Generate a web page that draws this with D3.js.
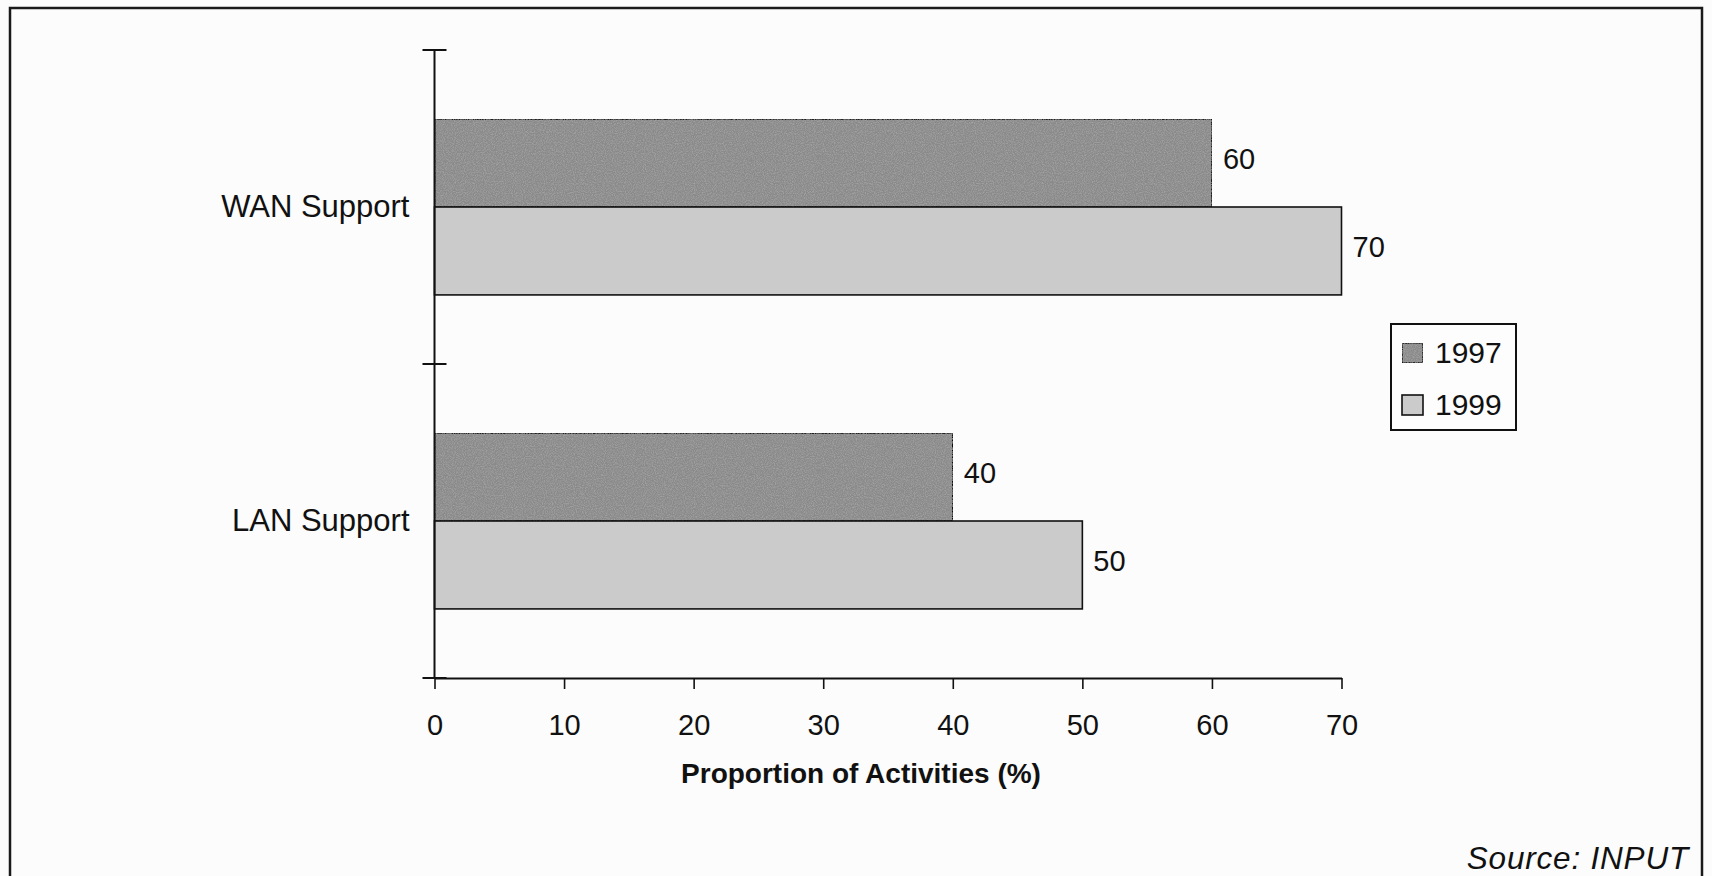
<!DOCTYPE html>
<html>
<head>
<meta charset="utf-8">
<script src="https://cdn.jsdelivr.net/npm/d3@7"></script>
<style>
  html, body { margin: 0; padding: 0; background: #fcfcfc; }
  svg { display: block; }
  text { font-family: "Liberation Sans", Arial, sans-serif; fill: #111; }
</style>
</head>
<body>
<svg id="chart" width="1712" height="876"></svg>
<script>
// ---- data ----
const categories = ["WAN Support", "LAN Support"];
const seriesNames = ["1997", "1999"];
const values1997 = [60, 40];
const values1999 = [70, 50];
const xTicks = [0, 10, 20, 30, 40, 50, 60, 70];
const xTitle = "Proportion of Activities (%)";
const sourceText = "Source: INPUT";

const seriesValues = [values1997, values1999];
const colors = ["#8a8a8a", "#cbcbcb"];

const svg = d3.select("#chart");

// frame
svg.append("rect")
  .attr("x", 10).attr("y", 8)
  .attr("width", 1692).attr("height", 900)
  .attr("fill", "#fcfcfc")
  .attr("stroke", "#1a1a1a").attr("stroke-width", 2.5);

// noise texture for bars
const defs = svg.append("defs");
const f = defs.append("filter").attr("id", "grain").attr("x", 0).attr("y", 0).attr("width", 1).attr("height", 1);
f.append("feTurbulence").attr("type", "fractalNoise").attr("baseFrequency", 0.9).attr("numOctaves", 2).attr("seed", 3).attr("result", "n");
f.append("feColorMatrix").attr("in", "n").attr("type", "matrix")
  .attr("values", "0 0 0 0 0.45  0 0 0 0 0.45  0 0 0 0 0.45  0 0 0 -1.2 0.75").attr("result", "nm");
f.append("feComposite").attr("in", "nm").attr("in2", "SourceGraphic").attr("operator", "in").attr("result", "nc");
f.append("feMerge").call(m => { m.append("feMergeNode").attr("in", "SourceGraphic"); m.append("feMergeNode").attr("in", "nc"); });

const x = d3.scaleLinear().domain([0, 70]).range([434.5, 1341.5]);
const y = d3.scaleBand().domain(categories).range([50, 678]).paddingInner(0.44).paddingOuter(0.22);
const yInner = d3.scaleBand().domain(seriesNames).range([0, y.bandwidth()]);

// bars
const groups = svg.selectAll("g.cat").data(categories).join("g")
  .attr("class", "cat")
  .attr("transform", d => `translate(0,${y(d)})`);

seriesNames.forEach((s, si) => {
  groups.append("rect")
    .attr("x", x(0))
    .attr("y", yInner(s))
    .attr("width", (d, i) => x(seriesValues[si][i]) - x(0))
    .attr("height", yInner.bandwidth())
    .attr("fill", colors[si])
    .attr("stroke", "#111").attr("stroke-width", 1.6)
    .attr("filter", si === 0 ? "url(#grain)" : null);
  groups.append("text")
    .attr("x", (d, i) => x(seriesValues[si][i]) + 11)
    .attr("y", yInner(s) + yInner.bandwidth() / 2 + 6)
    .attr("font-size", 29)
    .text((d, i) => seriesValues[si][i]);
});

// x axis
const xAxis = svg.append("g")
  .attr("transform", `translate(0,${y.range()[1]})`)
  .call(d3.axisBottom(x).tickValues(xTicks).tickSize(11).tickSizeOuter(0).tickPadding(25));
xAxis.select(".domain").attr("stroke", "#111").attr("stroke-width", 2);
xAxis.selectAll(".tick line").attr("stroke", "#111").attr("stroke-width", 1.6);
xAxis.selectAll(".tick text").attr("font-size", 29).attr("font-family", "Liberation Sans, Arial, sans-serif").attr("fill", "#111");

// y axis: labels
const yAxis = svg.append("g")
  .attr("transform", `translate(${x(0)},0)`)
  .call(d3.axisLeft(y).tickSize(0).tickPadding(25));
yAxis.select(".domain").remove();
yAxis.selectAll(".tick text").attr("font-size", 31).attr("font-family", "Liberation Sans, Arial, sans-serif").attr("fill", "#111");

// y axis line and boundary ticks
const yr = y.range();
svg.append("line")
  .attr("x1", x(0)).attr("x2", x(0))
  .attr("y1", yr[0]).attr("y2", yr[1])
  .attr("stroke", "#111").attr("stroke-width", 2);
const boundaries = [yr[0]].concat(categories.map(c => y(c) + y.bandwidth() + y.step() * y.paddingInner() / 2));
boundaries[boundaries.length - 1] = yr[1];
svg.selectAll("line.ytick").data(boundaries).join("line")
  .attr("class", "ytick")
  .attr("x1", x(0) - 12).attr("x2", x(0) + 12)
  .attr("y1", d => d).attr("y2", d => d)
  .attr("stroke", "#111").attr("stroke-width", 2);

// x title
svg.append("text")
  .attr("x", 861)
  .attr("y", 783)
  .attr("text-anchor", "middle")
  .attr("font-size", 28)
  .attr("font-weight", "bold")
  .text(xTitle);

// legend
const lg = svg.append("g").attr("transform", "translate(1391,324)");
lg.append("rect").attr("width", 125).attr("height", 106)
  .attr("fill", "#fdfdfd").attr("stroke", "#111").attr("stroke-width", 2);
seriesNames.forEach((s, i) => {
  lg.append("rect")
    .attr("x", 11).attr("y", 19 + i * 52)
    .attr("width", 21).attr("height", 20)
    .attr("fill", colors[i]).attr("stroke", "#111").attr("stroke-width", 1.6)
    .attr("filter", i === 0 ? "url(#grain)" : null);
  lg.append("text")
    .attr("x", 44).attr("y", 39 + i * 52)
    .attr("font-size", 30)
    .text(s);
});

// source
svg.append("text")
  .attr("x", 1689).attr("y", 869)
  .attr("text-anchor", "end")
  .attr("font-size", 31.5)
  .attr("letter-spacing", 0.8)
  .attr("font-style", "italic")
  .text(sourceText);
</script>
</body>
</html>
